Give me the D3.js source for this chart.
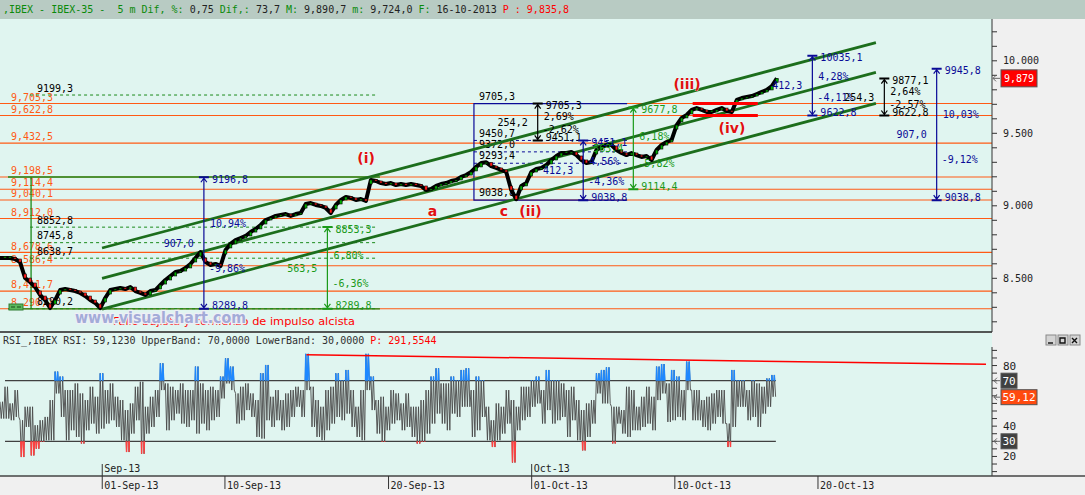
<!DOCTYPE html>
<html><head><meta charset="utf-8">
<script src="https://cdn.jsdelivr.net/npm/d3@7"></script>
<style>
body{margin:0;background:#f0f0f0;}
svg{display:block;}
text{white-space:pre;}
</style>
</head><body>
<svg id="c" width="1085" height="495"></svg>
<script>
// ---------------- DATA ----------------
const BARS_PER_DAY = 102;      // 5-minute bars per IBEX session
const SAMPLE_STEP = 25;        // bars between samples
// closes sampled every 25 bars from 26-Aug-13 open
const priceCloses = [8640,8640,8640,8633,8612,8502,8474,8440,8385,8350,
8295,8350,8419,8426,8419,8412,8399,8378,8350,8330,
8295,8364,8419,8426,8433,8426,8440,8412,8399,8385,
8412,8419,8454,8488,8516,8543,8550,8571,8599,8640,
8681,8612,8592,8599,8585,8695,8737,8764,8778,8792,
8819,8840,8868,8902,8916,8930,8937,8943,8930,8943,
8950,9012,9019,9006,8999,8985,8950,9006,9040,9061,
9054,9040,9047,9033,9178,9171,9157,9150,9157,9143,
9150,9143,9150,9143,9137,9109,9116,9137,9150,9157,
9171,9178,9199,9212,9233,9268,9295,9300,9274,9261,
9247,9233,9109,9045,9137,9157,9233,9254,9261,9281,
9316,9343,9364,9364,9371,9350,9316,9295,9302,9385,
9406,9419,9419,9385,9364,9350,9364,9350,9337,9343,
9316,9385,9419,9440,9454,9557,9606,9626,9661,9674,
9661,9647,9647,9661,9674,9654,9647,9730,9743,9750,
9757,9771,9785,9799,9826,9879];
const rsiHigh = [56.1,66.0,55.0,63.8,43.9,52.8,52.8,40.6,43.9,46.1,
57.2,76.0,72.7,63.8,63.8,68.2,61.6,57.2,66.0,59.4,
74.9,63.8,68.2,59.4,57.2,50.6,55.0,66.0,69.3,52.8,
59.4,63.8,81.5,68.2,66.0,63.8,68.2,63.8,63.8,79.3,
68.2,63.8,66.0,63.8,72.7,84.8,79.3,61.6,66.0,68.2,
61.6,57.2,74.9,80.4,59.4,63.8,57.2,61.6,63.8,66.0,
63.8,87.7,66.0,57.2,52.8,63.8,66.0,74.9,70.4,77.1,
63.8,52.8,63.8,87.7,72.7,57.2,59.4,52.8,63.8,61.6,
55.0,61.6,52.8,52.8,57.2,63.8,72.7,78.2,68.2,68.2,
72.7,70.4,77.1,78.2,63.8,72.7,70.4,52.8,43.9,55.0,
52.8,63.8,57.2,52.8,66.0,66.0,70.4,72.7,63.8,77.1,
70.4,70.4,68.2,63.8,66.0,57.2,50.6,55.0,57.2,74.9,
77.1,78.8,52.8,52.8,50.6,66.0,63.8,52.8,59.4,66.0,
59.4,79.3,81.0,68.2,77.1,72.7,63.8,82.6,63.8,63.8,
57.2,59.4,61.6,63.8,63.8,41.7,77.1,70.4,70.4,63.8,
70.4,68.2,66.0,71.5,73.8];
const rsiLow = [45.0,45.0,43.9,46.1,19.6,39.5,20.7,25.1,29.6,30.7,
30.7,61.6,46.1,30.7,37.3,32.9,28.5,37.3,41.7,35.1,
38.4,41.7,43.9,39.5,30.7,22.9,35.1,43.9,21.8,35.1,
39.5,46.1,63.8,37.3,43.9,48.3,41.7,39.5,43.9,35.1,
41.7,37.3,43.9,46.1,58.3,68.2,63.8,41.7,43.9,50.6,
46.1,32.9,31.8,43.9,39.5,43.9,37.3,39.5,46.1,52.8,
46.1,63.8,39.5,32.9,30.7,37.3,41.7,46.1,43.9,48.3,
39.5,32.9,30.7,63.8,50.6,35.1,29.6,37.3,41.7,43.9,
37.3,39.5,32.9,28.5,29.6,35.1,41.7,48.3,41.7,37.3,
48.3,46.1,52.8,52.8,32.9,37.3,46.1,30.7,26.2,30.7,
35.1,41.7,16.0,37.3,43.9,46.1,52.8,55.0,41.7,50.6,
41.7,43.9,46.1,32.9,43.9,30.7,24.0,32.9,41.7,61.6,
55.0,55.0,28.5,41.7,35.1,32.9,37.3,37.3,39.5,41.7,
37.3,57.2,61.6,42.8,43.9,46.1,43.9,63.8,43.9,43.9,
39.5,37.3,41.7,46.1,41.7,26.2,39.5,52.8,52.8,43.9,
46.1,39.5,48.3,52.8,59.4];
const rsiLast = 59.12;
const rsiBands = [70, 30];

// horizontal support/resistance levels
const levelValues = [9705.3, 9622.8, 9432.5, 9198.5, 9114.4, 9040.1, 8912.0, 8678.6, 8586.4, 8411.7, 8290.2];
// fibonacci tool (left)
const fibStartBar = 150, fibEndBar = 1885;
const fibLevels = [9764, 8852.8, 8745.8, 8638.7, 8290.2];
const fibLabels = ["9199,3", "8852,8", "8745,8", "8638,7", "8290,2"];
// green range box
const gBoxStartBar = 40, gBoxVBar = 155, gBoxEndBar = 1895;
const gBoxTop = 9198.5, gBoxBottom = 8289.8;
// blue range box
const bBoxStartBar = 2364, bBoxEndBar = 3128;
const bBoxLevels = [9705.3, 9450.7, 9372.0, 9293.4, 9038.8];
const bBoxDashed = [9450.7, 9372.0, 9293.4];
// trend channel (bar, price)
const channelStartBar = 509, channelEndBar = 4369;
const channelStart = [8709, 8500, 8288];
const channelEnd = [10126, 9920.7, 9707];
// measuring arrows
const measureBars = [1017, 1633, 2682, 2909, 3159, 4052, 4411, 4672];
const measureHigh = [9196.8, 8853.3, 9705.3, 9451.1, 9677.8, 10035.1, 9877.1, 9945.8];
const measureLow  = [8289.8, 8289.8, 9451.1, 9038.8, 9114.4, 9622.8, 9622.8, 9038.8];
// wave (iv) range lines
const waveRangeBars = [3455, 3780];
const waveRangeLevels = [9705.3, 9622.8];
// elliott wave labels
const waveLabels = ["(i)", "a", "c", "(ii)", "(iii)", "(iv)"];
const waveBars = [1826, 2157, 2514, 2646, 3427, 3651];
const wavePrices = [9330, 8964, 8964, 8964, 9840, 9537];
// RSI trend line
const rsiTrendBars = [1529, 4918];
const rsiTrendValues = [87.1, 80.8];
// axes
const priceTicks = [8500, 9000, 9500, 10000];
const rsiTickLabels = [80, 40, 20];
const monthTickDays = [5, 26];
const monthTickLabels = ["Sep-13", "Oct-13"];
const dayTickDays = [5, 11, 19, 26, 33, 40];
const dayTickLabels = ["01-Sep-13", "10-Sep-13", "20-Sep-13", "01-Oct-13", "10-Oct-13", "20-Oct-13"];

// ---------------- DRAWING ----------------
const MONO = '"DejaVu Sans Mono", "Liberation Mono", monospace';
const SANS = '"DejaVu Sans", "Liberation Sans", sans-serif';
const W = 1085, H = 495, PR = 992;
const ORANGE = '#ff5a14', BLUE = '#0a0a96', GREEN = '#1a9a1a', CHAN = '#1c6e1c', MINT = '#e0f5f0';
const measureColors = [BLUE, GREEN, '#000', BLUE, GREEN, BLUE, '#000', BLUE];

const x = d3.scaleLinear().domain([0, 4948]).range([0, PR]);
const y = d3.scaleLinear().domain([9000, 10000]).range([205.8, 60.8]);
const yr = d3.scaleLinear().domain([30, 70]).range([441.3, 380.7]);

const svg = d3.select('#c');
svg.append('rect').attr('width', W).attr('height', H).attr('fill', '#f0f0f0');
svg.append('rect').attr('width', W).attr('height', 19).attr('fill', '#b8cbc3');
svg.append('rect').attr('x', 0).attr('y', 19).attr('width', PR).attr('height', 313).attr('fill', MINT);
svg.append('rect').attr('x', 0).attr('y', 333).attr('width', PR).attr('height', 143).attr('fill', MINT);

const defs = svg.append('defs');
defs.append('clipPath').attr('id', 'cpMain').append('rect').attr('x', 0).attr('y', 19).attr('width', PR).attr('height', 313);
defs.append('clipPath').attr('id', 'cpRsi').append('rect').attr('x', 0).attr('y', 333).attr('width', PR).attr('height', 143);
defs.append('clipPath').attr('id', 'cpBlue').append('rect').attr('x', 0).attr('y', 333).attr('width', PR).attr('height', yr(70) - 333);
defs.append('clipPath').attr('id', 'cpRed').append('rect').attr('x', 0).attr('y', yr(30)).attr('width', PR).attr('height', 476 - yr(30));

function label(g, xx, yc, s, color, opt = {}) {
  const size = opt.size || 10;
  const t = g.append('text').attr('x', xx).attr('y', yc + size * 0.36)
    .attr('fill', color).attr('font-size', size)
    .attr('font-family', opt.family || MONO)
    .attr('font-weight', opt.weight || 'normal')
    .attr('text-anchor', opt.anchor || 'start').text(s);
  return t;
}
const fmtLevel = v => { const [i, d] = v.toFixed(1).split('.'); return i.replace(/\B(?=(\d{3})+(?!\d))/g, ',') + ',' + d; };
const fmtVal = v => v.toFixed(1).replace('.', ',');
const fmtPct = v => v.toFixed(2).replace('.', ',') + '%';

// header
const hdr = svg.append('text').attr('x', 3).attr('y', 13).attr('font-family', MONO).attr('font-size', 10);
[[',IBEX - IBEX-35 -  5 m Dif, %:', '#0a8a0a'], [' 0,75', '#222'], [' Dif,:', '#0a8a0a'], [' 73,7', '#222'],
 [' M:', '#0a8a0a'], [' 9,890,7', '#222'], [' m:', '#0a8a0a'], [' 9,724,0', '#222'], [' F:', '#0a8a0a'],
 [' 16-10-2013', '#222'], [' P : 9,835,8', '#ff0000']].forEach(([s, c]) => hdr.append('tspan').attr('fill', c).text(s));

// ---------- main panel ----------
const gm = svg.append('g').attr('clip-path', 'url(#cpMain)');

// orange levels
levelValues.forEach(v => {
  gm.append('line').attr('x1', 0).attr('x2', PR).attr('y1', y(v)).attr('y2', y(v)).attr('stroke', ORANGE).attr('stroke-width', 1.1);
});
levelValues.forEach(v => label(gm, 11, y(v) - 6.5, fmtLevel(v), ORANGE));

// fib dashed levels
fibLevels.forEach((v, i) => {
  gm.append('line').attr('x1', x(fibStartBar)).attr('x2', x(fibEndBar)).attr('y1', y(v)).attr('y2', y(v))
    .attr('stroke', '#1a8a1a').attr('stroke-dasharray', '3,3').attr('stroke-width', 1);
  label(gm, 37, y(v) - 7, fibLabels[i], '#000');
});

// green box
gm.append('path').attr('fill', 'none').attr('stroke', '#1a8a1a').attr('stroke-width', 1.3)
  .attr('d', `M${x(gBoxStartBar)},${y(gBoxTop)}H${x(gBoxEndBar)}M${x(gBoxStartBar)},${y(gBoxBottom)}H${x(gBoxEndBar)}M${x(gBoxVBar)},${y(gBoxTop)}V${y(gBoxBottom)}`);
gm.append('rect').attr('x', 9).attr('y', 304).attr('width', 14).attr('height', 6).attr('fill', '#5cb85c').attr('stroke', '#2e7d32');
gm.append('path').attr('d', 'M11,307h4M17,307h4').attr('stroke', '#1b4d1b').attr('stroke-width', 1);

// blue box
gm.append('path').attr('fill', 'none').attr('stroke', BLUE).attr('stroke-width', 1.2)
  .attr('d', `M${x(bBoxEndBar)},${y(bBoxLevels[0])}H${x(bBoxStartBar)}V${y(bBoxLevels[4])}H${x(bBoxEndBar)}`);
bBoxDashed.forEach(v => gm.append('line').attr('x1', x(bBoxStartBar)).attr('x2', x(bBoxEndBar)).attr('y1', y(v)).attr('y2', y(v))
  .attr('stroke', BLUE).attr('stroke-dasharray', '3,3'));
bBoxLevels.forEach(v => label(gm, x(bBoxStartBar) + 5, y(v) - 7.5, fmtVal(v), '#000'));

// channel
channelStart.forEach((v, i) => {
  gm.append('line').attr('x1', x(channelStartBar)).attr('y1', y(v)).attr('x2', x(channelEndBar)).attr('y2', y(channelEnd[i]))
    .attr('stroke', CHAN).attr('stroke-width', 2.8);
});

// price
const line = d3.line().x((d, i) => x(i * SAMPLE_STEP)).y(d => y(d));
gm.append('path').datum(priceCloses).attr('d', line).attr('fill', 'none').attr('stroke', '#000')
  .attr('stroke-width', 4).attr('stroke-linejoin', 'round');
gm.selectAll('rect.cdl').data(priceCloses.slice(1)).join('rect').attr('class', 'cdl')
  .attr('x', (d, i) => x((i + 1) * SAMPLE_STEP) - 1.3).attr('width', 2.6)
  .attr('y', (d, i) => {
    const yc = y(d), yo = y(priceCloses[i]), h = Math.min(4, Math.max(1.5, Math.abs(yc - yo)));
    return yc < yo ? yc : yc - h;
  })
  .attr('height', (d, i) => Math.min(4, Math.max(1.5, Math.abs(y(d) - y(priceCloses[i])))))
  .attr('fill', (d, i) => d >= priceCloses[i] ? '#00b000' : '#ff1a1a')
  .attr('stroke', '#000').attr('stroke-width', 0.6);

// wave (iv) lines
waveRangeLevels.forEach(v => gm.append('line').attr('x1', x(waveRangeBars[0])).attr('x2', x(waveRangeBars[1]))
  .attr('y1', y(v)).attr('y2', y(v)).attr('stroke', '#ff0000').attr('stroke-width', 3));

// measuring arrows
measureBars.forEach((b, i) => {
  const cx = x(b), yt = y(measureHigh[i]), yb = y(measureLow[i]), col = measureColors[i];
  const d = measureHigh[i] - measureLow[i], span = yb - yt;
  gm.append('path').attr('fill', 'none').attr('stroke', col).attr('stroke-width', 1.2)
    .attr('d', `M${cx},${yt}V${yb}M${cx - 3},${yt + 5}L${cx},${yt + 1}L${cx + 3},${yt + 5}M${cx - 3},${yb - 5}L${cx},${yb - 1}L${cx + 3},${yb - 5}`);
  gm.append('path').attr('stroke', col).attr('stroke-width', 2)
    .attr('d', `M${cx - 5},${yt}H${cx + 5}M${cx - 5},${yb}H${cx + 5}`);
  label(gm, cx + 8, yt + 2, fmtVal(measureHigh[i]), col);
  label(gm, cx + 6, yt + 0.35 * span, fmtPct(d / measureLow[i] * 100), col);
  label(gm, cx - 10, (yt + yb) / 2, fmtVal(d), col, { anchor: 'end' });
  label(gm, cx + 5, yt + 0.69 * span, '-' + fmtPct(d / measureHigh[i] * 100), col);
  label(gm, cx + 8, yb - 3, fmtVal(measureLow[i]), col);
});

// wave labels
waveLabels.forEach((s, i) => {
  label(gm, x(waveBars[i]), y(wavePrices[i]), s, '#e01010', { size: 14, family: SANS, weight: 'bold', anchor: 'middle' })
    .attr('stroke', '#ffffff').attr('stroke-width', 0.6).attr('paint-order', 'stroke');
});

// note + watermark
label(gm, 113, 321, 'Fallo bajista y comienzo de impulso alcista', '#ff0000', { size: 11, family: SANS })
  .attr('textLength', 242).attr('lengthAdjust', 'spacingAndGlyphs');
label(gm, 75, 317, 'www.visualchart.com', '#a3abd8', { size: 16, family: SANS, weight: 'bold' })
  .attr('textLength', 171).attr('lengthAdjust', 'spacingAndGlyphs')
  .attr('stroke', '#eef0f6').attr('stroke-width', 2.5).attr('paint-order', 'stroke');

// separator + right axis
svg.append('line').attr('x1', 0).attr('x2', PR).attr('y1', 332).attr('y2', 332).attr('stroke', '#222').attr('stroke-width', 1.5);
svg.append('line').attr('x1', PR).attr('x2', PR).attr('y1', 19).attr('y2', 332).attr('stroke', '#333');
const ga = svg.append('g');
d3.range(8200, 10300, 100).forEach(v => {
  if (y(v) < 20 || y(v) > 331) return;
  ga.append('line').attr('x1', PR).attr('x2', PR + 5).attr('y1', y(v)).attr('y2', y(v)).attr('stroke', '#333');
});
priceTicks.forEach(v => label(ga, 1003, y(v), d3.format(',')(v).replace(/,/g, '.'), '#222'));
// last price box
const lastP = priceCloses[priceCloses.length - 1];
ga.append('path').attr('d', `M1000,${y(lastP)}H993M996,${y(lastP) - 3}L993,${y(lastP)}L996,${y(lastP) + 3}`).attr('stroke', '#666').attr('fill', 'none');
ga.append('rect').attr('x', 1001).attr('y', y(lastP) - 8.5).attr('width', 36).attr('height', 17).attr('fill', '#ff0000').attr('stroke', '#555');
label(ga, 1019, y(lastP), d3.format(',')(lastP), '#fff', { anchor: 'middle' });

// ---------- RSI panel ----------
label(svg, 3, 340, 'RSI_,IBEX RSI: 59,1230 UpperBand: 70,0000 LowerBand: 30,0000 ', '#303030')
  .append('tspan').attr('fill', '#ff0000').text('P: 291,5544');
const gr = svg.append('g').attr('clip-path', 'url(#cpRsi)');
const lastBar = (rsiHigh.length - 1) * SAMPLE_STEP;
rsiBands.forEach(v => gr.append('line').attr('x1', x(SAMPLE_STEP)).attr('x2', x(lastBar) + 4).attr('y1', yr(v)).attr('y2', yr(v))
  .attr('stroke', '#404040').attr('stroke-width', 1.2));
const rsiPts = [];
rsiHigh.forEach((h, i) => {
  const x0 = x(i * SAMPLE_STEP), lo = rsiLow[i];
  rsiPts.push([x0, yr(h)], [x0 + 1.25, yr(lo)], [x0 + 2.5, yr(h)], [x0 + 3.75, yr(lo)]);
});
const rsiD = d3.line()(rsiPts);
gr.append('path').attr('d', rsiD).attr('fill', 'none').attr('stroke', '#4a4a4a').attr('stroke-width', 0.9);
gr.append('path').attr('d', rsiD).attr('fill', 'none').attr('stroke', '#1e88ff').attr('stroke-width', 1.4).attr('clip-path', 'url(#cpBlue)');
gr.append('path').attr('d', rsiD).attr('fill', 'none').attr('stroke', '#ff4040').attr('stroke-width', 1.4).attr('clip-path', 'url(#cpRed)');
gr.append('line').attr('x1', x(rsiTrendBars[0])).attr('x2', x(rsiTrendBars[1]))
  .attr('y1', yr(rsiTrendValues[0])).attr('y2', yr(rsiTrendValues[1])).attr('stroke', '#ff0000').attr('stroke-width', 1.5);

// RSI axis
svg.append('line').attr('x1', PR).attr('x2', PR).attr('y1', 347).attr('y2', 476).attr('stroke', '#333');
d3.range(10, 95, 5).forEach(v => {
  if (yr(v) < 348 || yr(v) > 475) return;
  svg.append('line').attr('x1', PR).attr('x2', PR + 5).attr('y1', yr(v)).attr('y2', yr(v)).attr('stroke', '#333');
});
rsiTickLabels.forEach(v => label(svg, 1003, yr(v), String(v), '#222', { size: 11 }));
function rsiBox(v, txt, fill, w) {
  svg.append('path').attr('d', `M1000,${yr(v)}H994M997,${yr(v) - 3}L994,${yr(v)}L997,${yr(v) + 3}`).attr('stroke', '#666').attr('fill', 'none');
  svg.append('rect').attr('x', 1001).attr('y', yr(v) - 7.5).attr('width', w).attr('height', 15).attr('fill', fill).attr('stroke', '#555');
  label(svg, 1001 + w / 2, yr(v), txt, '#fff', { anchor: 'middle', size: 11 });
}
rsiBox(70, '70', '#404040', 16);
rsiBox(30, '30', '#404040', 16);
rsiBox(rsiLast, rsiLast.toFixed(2).replace('.', ','), '#ff4a10', 36);
// window buttons
[[1046, 'M1048,343h5'], [1058, 'M1060,338h5v5h-5z'], [1070, 'M1072,338l5,5M1077,338l-5,5']].forEach(([bx, p]) => {
  svg.append('rect').attr('x', bx).attr('y', 335).attr('width', 10).attr('height', 10).attr('fill', '#d4d4d4').attr('stroke', '#888');
  svg.append('path').attr('d', p).attr('stroke', '#111').attr('fill', 'none').attr('stroke-width', 1.4);
});

// ---------- time axis ----------
svg.append('line').attr('x1', 0).attr('x2', W).attr('y1', 476).attr('y2', 476).attr('stroke', '#444').attr('stroke-width', 1.5);
monthTickDays.forEach((d, i) => {
  const xx = x(d * BARS_PER_DAY);
  svg.append('line').attr('x1', xx).attr('x2', xx).attr('y1', 464).attr('y2', 476).attr('stroke', '#333');
  label(svg, xx + 2, 468, monthTickLabels[i], '#222');
});
dayTickDays.forEach((d, i) => {
  const xx = x(d * BARS_PER_DAY);
  svg.append('line').attr('x1', xx).attr('x2', xx).attr('y1', 476).attr('y2', 489).attr('stroke', '#333');
  label(svg, xx + 2, 485.5, dayTickLabels[i], '#222');
});
</script>
</body></html>
